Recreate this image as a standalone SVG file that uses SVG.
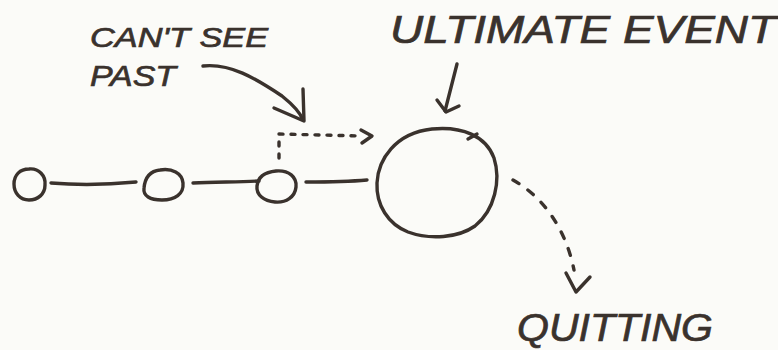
<svg xmlns="http://www.w3.org/2000/svg" width="778" height="350" viewBox="0 0 778 350">
  <style>
    .ink { fill: none; stroke: #3a322d; stroke-width: 3.4; stroke-linecap: round; stroke-linejoin: round; }
    .dash { fill: none; stroke: #3a322d; stroke-width: 3.4; stroke-linecap: round; stroke-dasharray: 4 8; }
    .dash-long { fill: none; stroke: #3a322d; stroke-width: 3.4; stroke-linecap: round; stroke-dasharray: 7 11; }
    .label { font-family: "Liberation Sans", "DejaVu Sans", sans-serif; fill: #3a322d; stroke: #3a322d; stroke-width: 0.7; font-style: italic; }
  </style>
  <rect width="778" height="350" fill="#fbfbf8"/>

  <!-- event nodes -->
  <g id="node-1">
    <path class="ink" d="M29,169 C39,168 46,176 45,185 C45,194 38,200 29,200 C20,200 14,193 14,184 C14,175 20,169 29,169 Z"/>
  </g>
  <g id="node-2">
    <path class="ink" d="M160,170 C172,168 182,173 183,183 C184,194 175,200 162,200 C150,200 143,196 144,188 C145,178 150,171 160,170 Z"/>
  </g>
  <g id="node-3">
    <path class="ink" d="M276,171 C289,170 297,177 296,187 C295,197 286,203 275,202 C264,201 256,195 257,186 C258,177 265,172 276,171 Z"/>
  </g>
  <g id="node-ultimate">
    <path class="ink" d="M432,129 C462,126 486,136 494,158 C501,180 495,210 475,226 C458,238 430,240 408,232 C388,224 376,205 377,183 C378,160 395,133 432,129 Z"/>
    <path class="ink" d="M468,139 L477,134"/>
  </g>

  <!-- connectors -->
  <g id="connectors">
    <path class="ink" d="M51,183 C75,185 105,185 136,182"/>
    <path class="ink" d="M193,183 C215,182 240,182 259,181"/>
    <path class="ink" d="M306,182 C325,182 345,182 367,180"/>

    <!-- dotted look-ahead from node 3 -->
    <path class="dash" d="M279,158 L279,134 L362,136"/>
    <path class="ink" d="M361,130 L372,136 L362,143"/>

    <!-- dashed exit to quitting -->
    <path class="dash-long" d="M513,180 C540,195 565,225 574,270"/>
    <path class="ink" d="M566,273 L576,292 L590,277"/>

    <!-- label pointers -->
    <path class="ink" d="M203,66 C230,63 255,78 282,96 C292,104 300,112 303,120"/>
    <path class="ink" d="M303,89 L304,121 L274,108"/>
    <path class="ink" d="M457,64 L445,111"/>
    <path class="ink" d="M437,100 L446,112 L459,106"/>
  </g>

  <!-- labels -->
  <g id="labels">
    <text class="label" x="90" y="47" font-size="28" textLength="178" lengthAdjust="spacingAndGlyphs">CAN'T SEE</text>
    <text class="label" x="90" y="86" font-size="30" textLength="86" lengthAdjust="spacingAndGlyphs">PAST</text>
    <text class="label" x="390" y="43" font-size="38" textLength="386" lengthAdjust="spacingAndGlyphs">ULTIMATE  EVENT</text>
    <text class="label" x="517" y="341" font-size="38" textLength="196" lengthAdjust="spacingAndGlyphs">QUITTING</text>
  </g>
</svg>
